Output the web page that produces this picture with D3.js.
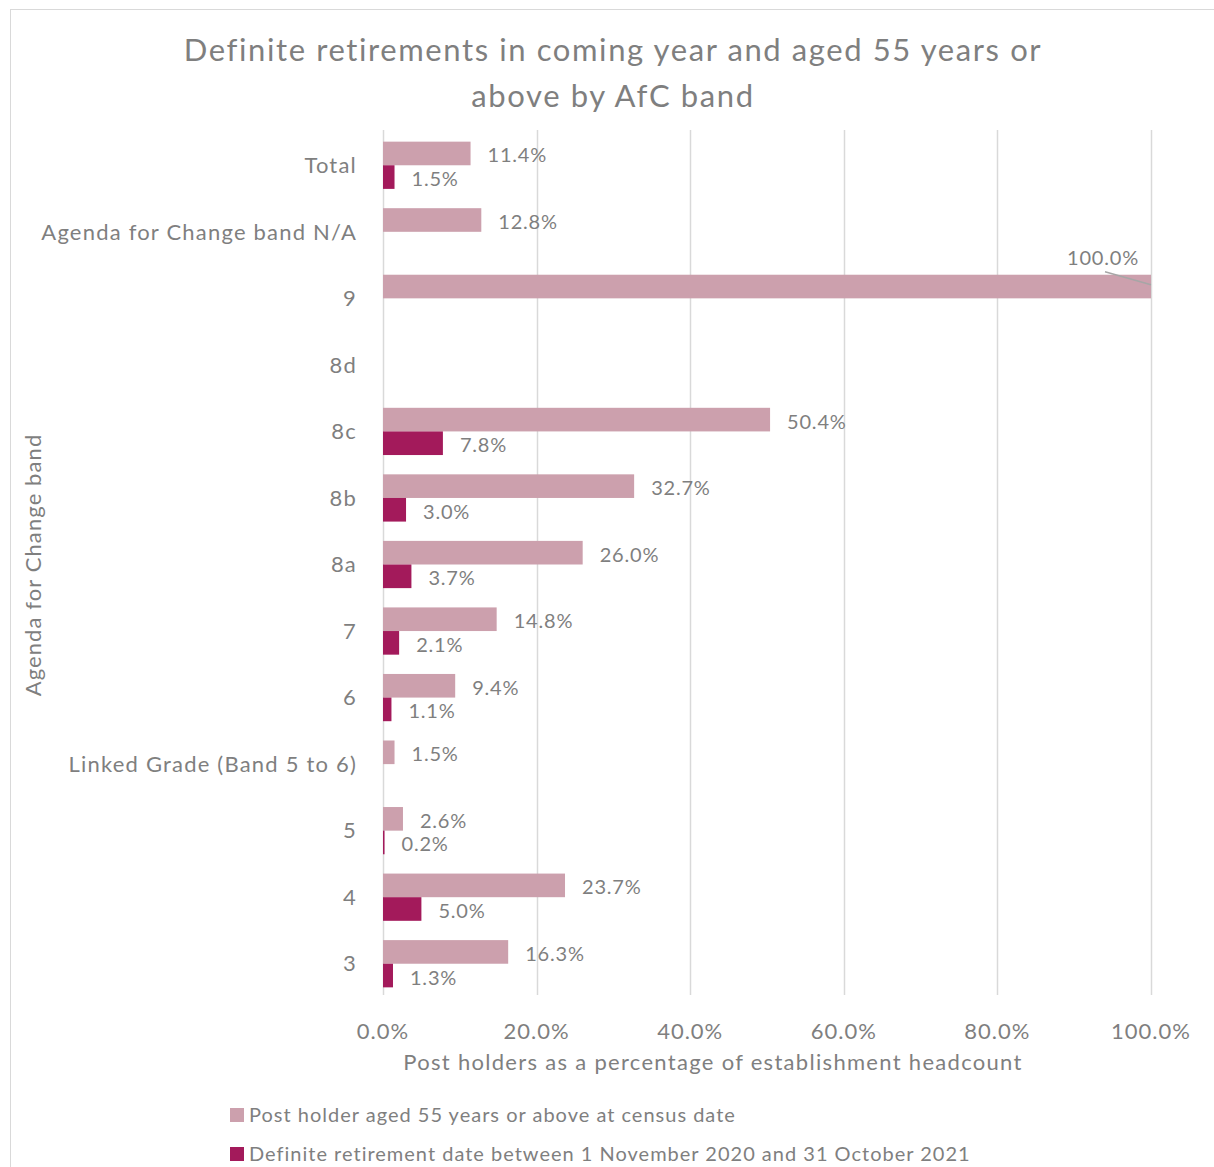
<!DOCTYPE html>
<html>
<head>
<meta charset="utf-8">
<script src="https://cdn.jsdelivr.net/npm/d3@7"></script>
<style>
  body { margin: 0; background: #fff; }
  text { font-family: Lato, "Open Sans", sans-serif; fill: #7f7f7f; }
</style>
</head>
<body>
<script>
// chart data
var bands = ["Total", "Agenda for Change band N/A", "9", "8d", "8c", "8b", "8a", "7", "6",
             "Linked Grade (Band 5 to 6)", "5", "4", "3"];
var seriesNames = ["Post holder aged 55 years or above at census date",
                   "Definite retirement date between 1 November 2020 and 31 October 2021"];
var aged55 = [11.4, 12.8, 100.0, null, 50.4, 32.7, 26.0, 14.8, 9.4, 1.5, 2.6, 23.7, 16.3];
var retiring = [1.5, null, null, null, 7.8, 3.0, 3.7, 2.1, 1.1, null, 0.2, 5.0, 1.3];
var xTicks = [0, 20, 40, 60, 80, 100];
var colors = ["#cca0ad", "#a31a5b"];

var W = 1214, H = 1167;
var svg = d3.select("body").append("svg")
    .attr("width", W)
    .attr("height", H);

// outer chart border
svg.append("rect")
    .attr("x", 10.5).attr("y", 9.5)
    .attr("width", W).attr("height", H)
    .attr("fill", "none")
    .attr("stroke", "#d9d9d9");

var x = d3.scaleLinear().domain([0, 100]).range([383, 1151]);
var y = d3.scaleBand().domain(bands).range([132, 997]).paddingInner(0.29).paddingOuter(0.145);
var ySub = d3.scaleBand().domain([0, 1]).range([0, y.bandwidth()]);

// gridlines
svg.append("g")
    .selectAll("line")
    .data(xTicks).enter()
    .append("line")
    .attr("x1", function(d) { return Math.round(x(d)) + 0.5; })
    .attr("x2", function(d) { return Math.round(x(d)) + 0.5; })
    .attr("y1", 130)
    .attr("y2", 995)
    .attr("stroke", "#d9d9d9")
    .attr("stroke-width", 1.5);

var rows = bands.map(function(b, i) { return { band: b, vals: [aged55[i], retiring[i]] }; });

var group = svg.append("g")
    .selectAll("g")
    .data(rows).enter()
    .append("g")
    .attr("transform", function(d) { return "translate(0," + y(d.band) + ")"; });

function present(d) {
    return d.vals.map(function(v, s) { return { v: v, s: s }; }).filter(function(e) { return e.v !== null; });
}

group.selectAll("rect")
    .data(present)
    .enter().append("rect")
    .attr("x", x(0))
    .attr("y", function(d) { return ySub(d.s); })
    .attr("width", function(d) { return x(d.v) - x(0); })
    .attr("height", ySub.bandwidth())
    .attr("fill", function(d) { return colors[d.s]; });

// value labels
group.selectAll("text")
    .data(present)
    .enter().append("text")
    .attr("x", function(d) { return d.v >= 100 ? x(d.v) - 12 : x(d.v) + 17; })
    .attr("y", function(d) { return d.v >= 100 ? ySub(d.s) - 17 : ySub(d.s) + ySub.bandwidth() / 2 + 2; })
    .attr("dy", "0.35em")
    .attr("text-anchor", function(d) { return d.v >= 100 ? "end" : "start"; })
    .style("font-size", "20px")
    .style("letter-spacing", "0.8px")
    .text(function(d) { return d.v.toFixed(1) + "%"; });

// leader line for the 100% label
var i100 = aged55.indexOf(100);
svg.append("line")
    .attr("x1", x(100) - 46).attr("y1", y(bands[i100]) - 3)
    .attr("x2", x(100)).attr("y2", y(bands[i100]) + 10)
    .attr("stroke", "#a6a6a6")
    .attr("stroke-width", 1.5);

// category labels
svg.append("g")
    .selectAll("text")
    .data(bands).enter()
    .append("text")
    .attr("x", 357)
    .attr("y", function(d) { return y(d) + y.bandwidth() / 2; })
    .attr("dy", "0.35em")
    .attr("text-anchor", "end")
    .style("font-size", "22px")
    .style("letter-spacing", "1.2px")
    .text(function(d) { return d; });

// x tick labels
svg.append("g")
    .selectAll("text")
    .data(xTicks).enter()
    .append("text")
    .attr("x", function(d) { return x(d); })
    .attr("y", 1031)
    .attr("dy", "0.35em")
    .attr("text-anchor", "middle")
    .style("font-size", "22px")
    .style("letter-spacing", "1px")
    .text(function(d) { return d.toFixed(1) + "%"; });

// axis titles
svg.append("text")
    .attr("x", 713).attr("y", 1062)
    .attr("dy", "0.35em")
    .attr("text-anchor", "middle")
    .style("font-size", "22px")
    .style("letter-spacing", "1.3px")
    .text("Post holders as a percentage of establishment headcount");

svg.append("text")
    .attr("transform", "translate(33,565) rotate(-90)")
    .attr("dy", "0.35em")
    .attr("text-anchor", "middle")
    .style("font-size", "22px")
    .style("letter-spacing", "1.1px")
    .text("Agenda for Change band");

// title
svg.append("text")
    .attr("x", 613).attr("y", 50)
    .attr("dy", "0.35em")
    .attr("text-anchor", "middle")
    .style("font-size", "31px")
    .style("letter-spacing", "1.6px")
    .text("Definite retirements in coming year and aged 55 years or");
svg.append("text")
    .attr("x", 613).attr("y", 96)
    .attr("dy", "0.35em")
    .attr("text-anchor", "middle")
    .style("font-size", "31px")
    .style("letter-spacing", "1.6px")
    .text("above by AfC band");

// legend
var legend = svg.append("g")
    .selectAll("g")
    .data(seriesNames).enter()
    .append("g")
    .attr("transform", function(d, i) { return "translate(230," + (1115 + i * 39) + ")"; });
legend.append("rect")
    .attr("x", 0).attr("y", -7)
    .attr("width", 14).attr("height", 14)
    .attr("fill", function(d, i) { return colors[i]; });
legend.append("text")
    .attr("x", 19).attr("y", 0)
    .attr("dy", "0.35em")
    .style("font-size", "20px")
    .style("letter-spacing", "1px")
    .text(function(d) { return d; });
</script>
</body>
</html>
